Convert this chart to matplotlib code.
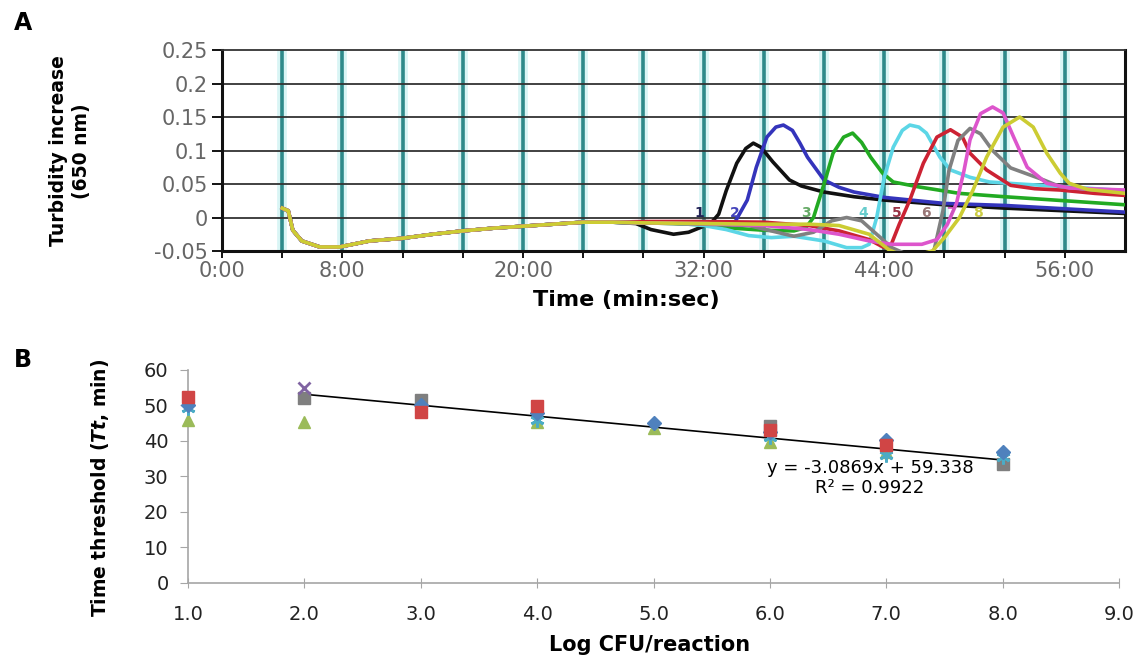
import matplotlib
matplotlib.use("Agg")
import matplotlib.pyplot as plt
import numpy as np

plt.rcParams['font.family'] = 'DejaVu Sans'
plt.rcParams['mathtext.fontset'] = 'custom'
plt.rcParams['mathtext.rm'] = 'DejaVu Sans:bold'
plt.rcParams['mathtext.it'] = 'DejaVu Sans:italic:bold'

# ---- panel A data: turbidity curves (time in minutes) ----
# common start of every curve
base_t = [4.0, 4.4, 4.7, 5.3, 6.5, 7.8, 9.8, 12, 14, 16, 18, 20, 22, 24, 26]
base_v = [0.014, 0.01, -0.019, -0.035, -0.044, -0.044, -0.035, -0.031, -0.025,
          -0.02, -0.016, -0.013, -0.010, -0.007, -0.007]

c1_t = [27.5, 28.5, 30, 31, 32, 32.5, 33, 33.5, 34.2, 34.8, 35.3, 35.8, 36.6, 37.7, 38.5, 40, 42, 44, 48, 52, 56, 60]
c1_v = [-0.009, -0.018, -0.025, -0.022, -0.013, -0.008, 0.005, 0.04, 0.081, 0.103, 0.111, 0.105, 0.083, 0.056,
        0.047, 0.038, 0.031, 0.026, 0.019, 0.014, 0.010, 0.006]
c2_t = [28, 30, 32, 33.5, 34.1, 34.9, 35.5, 36.2, 36.8, 37.3, 37.9, 38.4, 38.9, 40, 41, 42, 44, 48, 52, 56, 60]
c2_v = [-0.008, -0.008, -0.009, -0.009, -0.006, 0.026, 0.075, 0.12, 0.135, 0.138, 0.13, 0.111, 0.09, 0.056,
        0.045, 0.038, 0.030, 0.021, 0.018, 0.013, 0.008]
c3_t = [28, 30, 32, 34, 36, 38, 38.8, 39.3, 40, 40.6, 41.3, 41.9, 42.5, 43.1, 43.9, 44.6, 46.2, 49, 52, 56, 60]
c3_v = [-0.008, -0.009, -0.011, -0.016, -0.019, -0.02, -0.015, 0.0, 0.05, 0.096, 0.12, 0.126, 0.112, 0.09,
        0.066, 0.053, 0.046, 0.036, 0.031, 0.025, 0.019]
c4_t = [28, 30, 32, 33.5, 35, 36.5, 38, 40, 41.5, 42.5, 43.0, 43.5, 44.0, 44.6, 45.2, 45.7, 46.3, 46.8, 47.7,
        48.4, 49.7, 51, 53, 56, 60]
c4_v = [-0.008, -0.008, -0.012, -0.018, -0.027, -0.03, -0.028, -0.035, -0.045, -0.045, -0.04, 0.0, 0.06, 0.105,
        0.13, 0.138, 0.135, 0.126, 0.09, 0.071, 0.06, 0.053, 0.05, 0.046, 0.04]
c5_t = [28, 32, 36, 39, 41, 43, 44, 44.4, 45, 45.7, 46.6, 47.5, 48.4, 49.2, 49.7, 50.8, 52.4, 54, 55.7, 58, 60]
c5_v = [-0.006, -0.006, -0.007, -0.012, -0.02, -0.033, -0.045, -0.044, -0.01, 0.026, 0.081, 0.12, 0.131, 0.12,
        0.096, 0.071, 0.048, 0.043, 0.041, 0.036, 0.033]
c6_t = [28, 32, 35, 36.5, 38, 39.3, 40.5, 41.5, 42.5, 43.5, 44.5, 46, 47.3, 47.9, 48.3, 48.9, 49.7, 50.4, 51.2,
        52.4, 53.5, 54.6, 55.7, 58, 60]
c6_v = [-0.008, -0.01, -0.012, -0.02, -0.028, -0.022, -0.005, 0.0, -0.005, -0.025, -0.045, -0.06, -0.05, 0.01,
        0.07, 0.115, 0.133, 0.125, 0.1, 0.074, 0.065, 0.056, 0.046, 0.041, 0.038]
c7_t = [28, 32, 36, 39, 41, 43, 44.5, 46.5, 47.5, 48.2, 48.8, 49.3, 49.7, 50.4, 51.2, 51.9, 52.6, 53.5, 54.8,
        56.3, 60]
c7_v = [-0.008, -0.009, -0.012, -0.018, -0.025, -0.035, -0.04, -0.04, -0.033, -0.01, 0.021, 0.07, 0.116, 0.155,
        0.165, 0.156, 0.12, 0.075, 0.051, 0.044, 0.041]
c8_t = [28, 32, 36, 39, 41, 43, 44.3, 45.5, 47.2, 48, 49, 49.9, 50.8, 51.9, 53, 53.9, 54.8, 55.7, 56.3, 57.5, 60]
c8_v = [-0.008, -0.009, -0.01, -0.01, -0.012, -0.025, -0.048, -0.06, -0.05, -0.03, 0.0, 0.041, 0.09, 0.135,
        0.15, 0.135, 0.096, 0.066, 0.051, 0.042, 0.036]

curves = [(c1_t, c1_v, '#111111'), (c2_t, c2_v, '#3434bb'),
          (c3_t, c3_v, '#22aa22'), (c4_t, c4_v, '#5cd6e6'), (c5_t, c5_v, '#cc2233'),
          (c6_t, c6_v, '#808080'), (c7_t, c7_v, '#dd55cc'), (c8_t, c8_v, '#cccc33')]

curve_labels = ['1', '2', '3', '4', '5', '6', '7', '8']
label_t = [31.7, 34.1, 38.8, 42.6, 44.8, 46.8, 48.4, 50.2]
label_colors = ['#222255', '#4444bb', '#66aa66', '#66cccc', '#993344', '#997777', '#cc55bb', '#cccc44']

x_tick_min = [0, 8, 20, 32, 44, 56]
x_tick_text = ['0:00', '8:00', '20:00', '32:00', '44:00', '56:00']
y_ticks_a = [-0.05, 0, 0.05, 0.1, 0.15, 0.2, 0.25]
y_tick_text_a = ['-0.05', '0', '0.05', '0.1', '0.15', '0.2', '0.25']

# ---- panel B data: time threshold vs log CFU ----
log_cfu = [1, 2, 3, 4, 5, 6, 7, 8]
s_blue = [50.0, None, 50.0, 47.9, 45.1, 42.5, 40.3, 37.0]
s_red = [52.4, None, 48.2, 49.9, None, 43.1, 38.9, None]
s_green = [45.9, 45.4, None, 45.4, 43.8, 39.8, 36.8, None]
s_purple = [None, 54.9, None, None, None, None, None, None]
s_cyan = [49.3, None, None, 46.0, None, 41.0, 36.0, 35.5]
s_gray = [None, 52.1, 51.5, None, None, 44.2, None, 33.5]
trend_slope = -3.0869
trend_icpt = 59.338
trend_x = [2, 8]

fig = plt.figure(figsize=(11.41, 6.6), dpi=100)

# ================= panel A =================
axA = fig.add_axes([0.1946, 0.6197, 0.7914, 0.3045])
axA.set_xlim(0, 60)
axA.set_ylim(-0.05, 0.25)
for m in range(4, 60, 4):
    axA.axvline(m, color='#d9f5f5', lw=7, zorder=0)
for m in range(4, 60, 4):
    axA.axvline(m, color='#2e8a8a', lw=2.6, zorder=1)
for v in [0, 0.05, 0.1, 0.15, 0.2]:
    axA.axhline(v, color='#333333', lw=1.3, zorder=1)

for t, v, c in curves:
    tt = np.array(base_t + t)
    vv = np.array(base_v + v)
    axA.plot(tt, vv, color=c, lw=2.6, zorder=3, solid_joinstyle='round')

for lab, lt, lc in zip(curve_labels, label_t, label_colors):
    axA.text(lt, 0.006, lab, color=lc, fontsize=10, fontweight='bold', ha='center', va='center', zorder=4)

axA.set_xticks(x_tick_min)
axA.set_xticklabels(x_tick_text)
axA.set_xticks(list(range(4, 60, 4)), minor=True)
axA.set_yticks(y_ticks_a)
axA.set_yticklabels(y_tick_text_a)
axA.tick_params(axis='both', which='both', direction='out', color='black', width=1.3)
axA.tick_params(axis='y', length=7, pad=3, labelsize=15, labelcolor='#666666')
axA.tick_params(axis='x', which='major', length=5, pad=2, labelsize=15, labelcolor='#666666')
axA.tick_params(axis='x', which='minor', length=5)
for s in ['left', 'bottom', 'right']:
    axA.spines[s].set_linewidth(2.2)
    axA.spines[s].set_color('#111111')
axA.spines['top'].set_linewidth(1.3)
axA.spines['top'].set_color('#333333')

fig.text(70 / 1141, 1 - 151 / 660, 'Turbidity increase\n(650 nm)', rotation=90, fontsize=13.5,
         fontweight='bold', ha='center', va='center', linespacing=1.2)
fig.text(626 / 1141, 1 - 300 / 660, 'Time (min:sec)', fontsize=16, fontweight='bold',
         ha='center', va='center')
fig.text(23 / 1141, 1 - 23 / 660, 'A', fontsize=17, fontweight='bold', ha='center', va='center')

# ================= panel B =================
axB = fig.add_axes([0.1648, 0.1167, 0.8159, 0.3227])
axB.set_xlim(1, 9)
axB.set_ylim(0, 60)

def pts(series):
    xs = [x for x, y in zip(log_cfu, series) if y is not None]
    ys = [y for y in series if y is not None]
    return xs, ys

axB.plot([trend_x[0], trend_x[1]],
         [trend_slope * trend_x[0] + trend_icpt, trend_slope * trend_x[1] + trend_icpt],
         color='black', lw=1.2, zorder=2)
axB.plot(*pts(s_gray), 's', color='#7f7f7f', ms=8, zorder=3, clip_on=False)
axB.plot(*pts(s_green), '^', color='#9bbb59', ms=8, zorder=3, clip_on=False)
axB.plot(*pts(s_cyan), marker=(6, 2, 0), ls='none', color='#4bacc6', ms=10, mew=2, zorder=3, clip_on=False)
axB.plot(*pts(s_blue), 'D', color='#4f81bd', ms=7, zorder=3, clip_on=False)
axB.plot(*pts(s_red), 's', color='#d04545', ms=8, zorder=4, clip_on=False)
axB.plot(*pts(s_purple), 'x', color='#8064a2', ms=9, mew=2, zorder=4, clip_on=False)

axB.text(6.86, 29.7, 'y = -3.0869x + 59.338\nR² = 0.9922', fontsize=13, ha='center', va='center',
         linespacing=1.15)

axB.set_xticks(log_cfu + [9])
axB.set_xticklabels(['%.1f' % x for x in log_cfu + [9]])
axB.set_yticks([0, 10, 20, 30, 40, 50, 60])
for s in ['top', 'right']:
    axB.spines[s].set_visible(False)
for s in ['left', 'bottom']:
    axB.spines[s].set_color('#a6a6a6')
    axB.spines[s].set_linewidth(1.2)
axB.tick_params(axis='x', direction='inout', length=7, color='#a6a6a6', pad=12, labelsize=14,
                labelcolor='#222222')
axB.tick_params(axis='y', direction='out', length=6, color='#a6a6a6', pad=8, labelsize=14,
                labelcolor='#222222')

fig.text(100 / 1141, 1 - 488 / 660, r'Time threshold ($Tt$, min)', rotation=90, fontsize=13.5,
         fontweight='bold', ha='center', va='center')
fig.text(650 / 1141, 1 - 645 / 660, 'Log CFU/reaction', fontsize=15, fontweight='bold',
         ha='center', va='center')
fig.text(23 / 1141, 1 - 360 / 660, 'B', fontsize=17, fontweight='bold', ha='center', va='center')

fig.savefig('out.png', dpi=100, facecolor='white')
